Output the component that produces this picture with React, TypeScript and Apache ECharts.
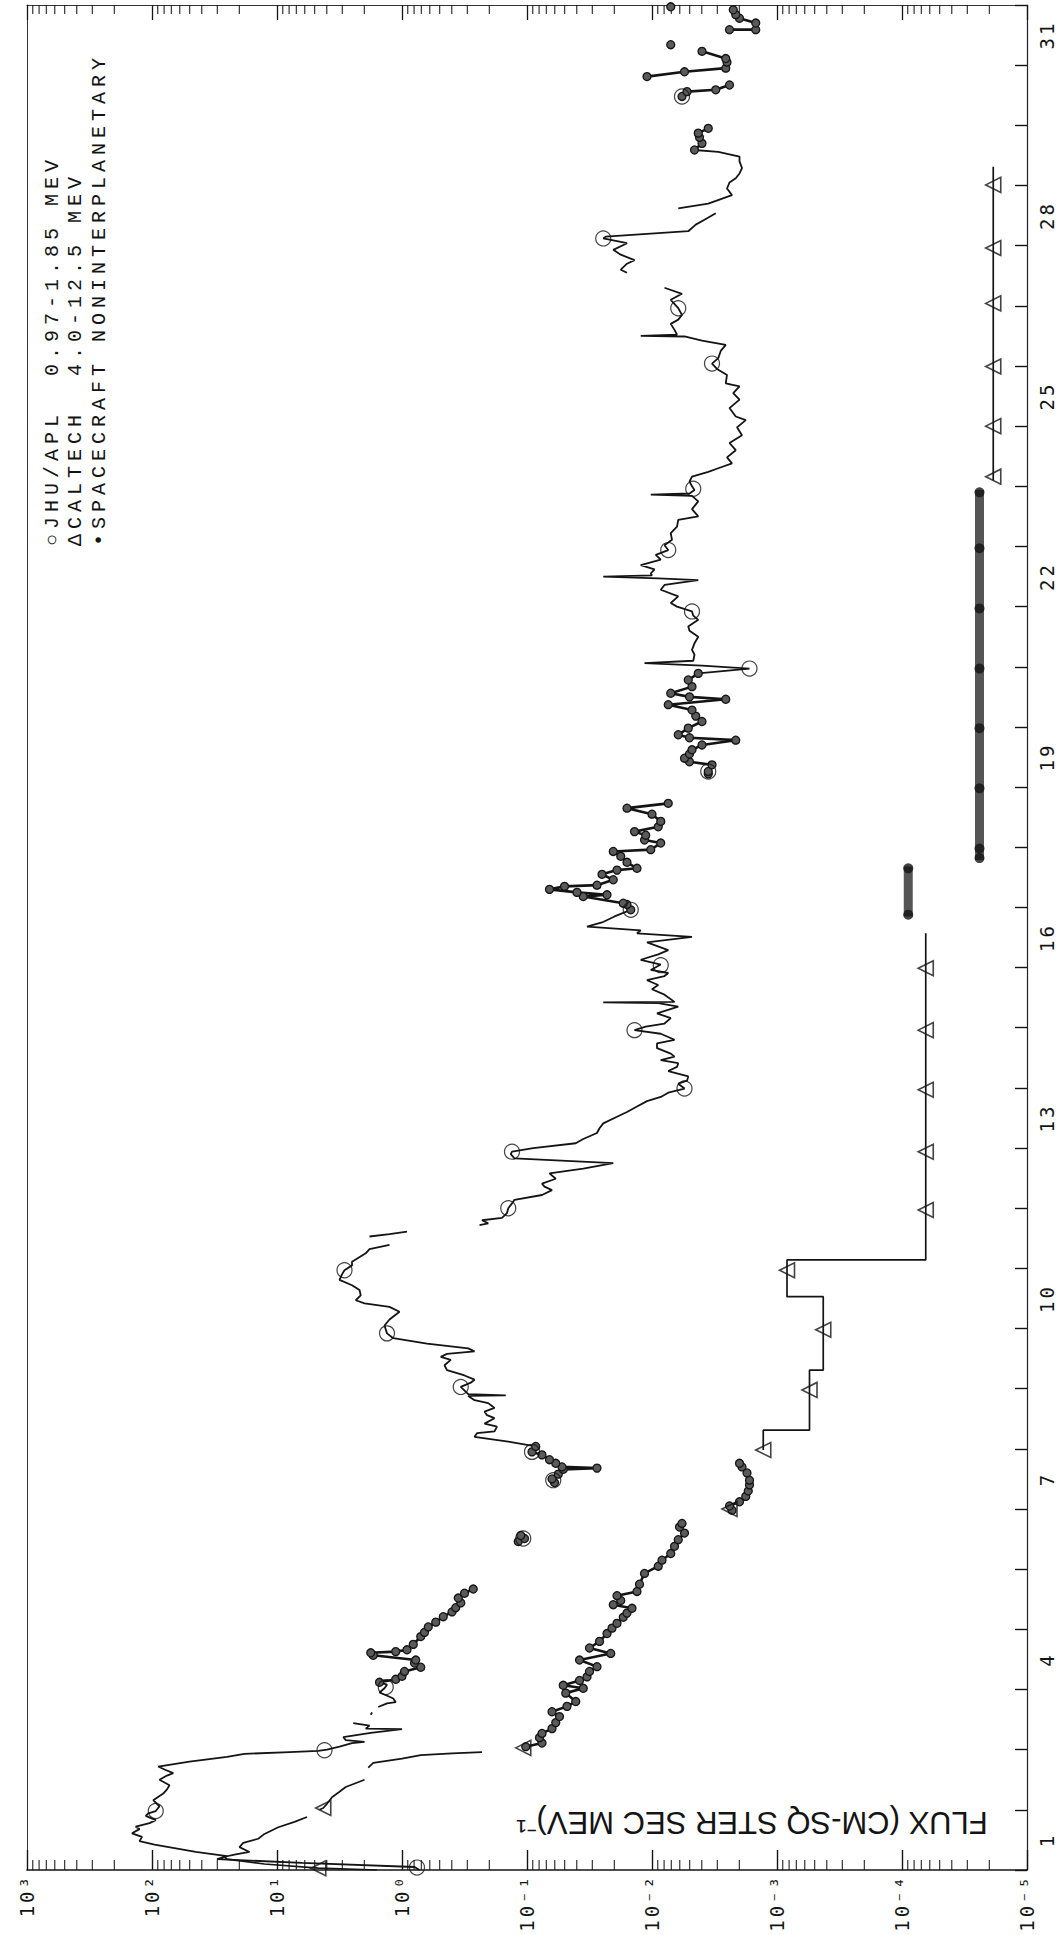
import React, { useEffect, useRef } from 'react';
import * as echarts from 'echarts';

// ---- axes ----
const fluxDecades = [-5, -4, -3, -2, -1, 0, 1, 2, 3];
const decadeLabels = ['10⁻⁵', '10⁻⁴', '10⁻³', '10⁻²', '10⁻¹', '10⁰', '10¹', '10²', '10³'];
const minorMultipliers = [2, 3, 4, 5, 6, 7, 8, 9];
const dayLabels = [1, 4, 7, 10, 13, 16, 19, 22, 25, 28, 31];

// ---- data: [day, log10 flux]; null = gap ----
const aplInterplanetary: ([number, number] | null)[] = [
  [1.00, -0.14], [1.05, -0.10], [1.12, 0.80], [1.18, 1.48], [1.23, 1.40], [1.30, 1.65], [1.42, 1.98],
  [1.48, 2.10], [1.55, 2.08], [1.61, 2.16], [1.68, 2.10], [1.72, 2.13], [1.78, 2.02], [1.83, 1.97],
  [1.90, 2.05], [1.94, 2.03], [1.98, 1.97], [2.06, 1.94], [2.16, 1.99], [2.27, 1.91], [2.34, 1.88],
  [2.41, 1.86], [2.50, 1.94], [2.57, 1.88], [2.61, 1.83], [2.67, 1.90], [2.72, 1.95], [2.80, 1.70],
  [2.88, 1.40], [2.93, 1.26], [2.96, 0.90], [2.98, 0.67], [3.00, 0.60], [3.05, 0.50], [3.11, 0.40],
  [3.13, 0.30], [3.16, 0.45], [3.21, 0.47], [3.28, 0.25], [3.34, 0.00], [3.35, 0.29], [3.40, 0.26],
  [3.44, 0.39], null,
  [3.58, 0.25], [3.62, 0.24], null,
  [3.71, 0.19], [3.77, 0.12], [3.79, 0.05], [3.85, 0.07], [3.88, 0.10], [3.95, 0.18], [4.02, 0.14],
  [4.08, 0.12], [4.12, 0.18], null,
  [8.04, -1.07], [8.12, -0.85], [8.20, -0.58], [8.26, -0.60], [8.29, -0.74], [8.37, -0.76], [8.42, -0.66],
  [8.51, -0.74], [8.56, -0.68], [8.62, -0.66], [8.68, -0.74], [8.76, -0.69], [8.81, -0.58], [8.88, -0.53],
  [8.89, -0.83], [8.91, -0.53], [9.03, -0.47], [9.10, -0.55], [9.15, -0.58], [9.22, -0.50], [9.31, -0.36],
  [9.39, -0.34], [9.48, -0.39], [9.53, -0.31], [9.58, -0.36], [9.62, -0.58], [9.67, -0.53], [9.75, -0.20],
  [9.84, 0.07], [9.92, 0.12], [10.05, 0.14], [10.15, 0.10], [10.28, 0.02], [10.36, 0.10], [10.42, 0.30],
  [10.47, 0.37], [10.55, 0.33], [10.64, 0.34], [10.72, 0.40], [10.81, 0.50], [10.90, 0.48], [10.97, 0.46],
  [11.05, 0.40], [11.11, 0.40], [11.25, 0.29], [11.32, 0.26], [11.39, 0.10], null,
  [11.53, 0.26], [11.57, 0.10], [11.61, -0.04], null,
  [11.72, -0.62], [11.75, -0.69], [11.80, -0.64], [11.84, -0.80], [11.92, -0.84], [12.00, -0.85],
  [12.08, -0.88], [12.14, -0.90], [12.22, -1.12], [12.30, -1.20], [12.36, -1.14], [12.41, -1.12],
  [12.49, -1.23], [12.58, -1.18], [12.66, -1.45], [12.75, -1.69], [12.83, -0.90], [12.90, -0.87],
  [12.94, -0.88], [13.00, -1.05], [13.08, -1.39], [13.15, -1.45], [13.25, -1.56], [13.33, -1.58],
  [13.41, -1.61], [13.52, -1.72], [13.60, -1.80], [13.69, -1.88], [13.78, -1.96], [13.85, -2.07],
  [13.92, -2.13], [13.99, -2.26], [14.07, -2.21], [14.12, -2.28], [14.19, -2.29], [14.28, -2.13],
  [14.35, -2.20], [14.41, -2.21], [14.46, -2.07], [14.52, -2.18], [14.57, -2.15], [14.66, -2.04],
  [14.74, -2.04], [14.80, -2.18], [14.90, -2.07], [14.96, -1.86], [15.02, -1.95], [15.07, -2.10],
  [15.16, -2.15], [15.24, -2.04], [15.35, -2.21], [15.41, -2.05], [15.42, -1.61], [15.43, -2.18],
  [15.55, -2.10], [15.64, -2.00], [15.71, -2.05], [15.79, -1.96], [15.86, -2.10], [15.91, -2.13],
  [15.96, -1.99], [16.05, -2.07], [16.13, -1.91], [16.22, -2.05], [16.29, -2.13], [16.42, -1.96],
  [16.51, -2.32], [16.57, -1.88], [16.62, -1.91], [16.68, -1.48], [16.75, -1.60], [16.85, -1.70],
  [16.96, -1.83], null,
  [20.89, -2.37], [20.97, -2.78], [21.02, -2.40], [21.06, -1.94], [21.10, -2.33], [21.20, -2.34],
  [21.28, -2.32], [21.39, -2.34], [21.50, -2.37], [21.60, -2.30], [21.67, -2.29], [21.78, -2.37],
  [21.85, -2.33], [21.92, -2.32], [22.00, -2.20], [22.06, -2.15], [22.17, -2.21], [22.28, -2.07],
  [22.36, -2.10], [22.44, -2.37], [22.47, -2.05], [22.50, -1.61], [22.52, -2.00], [22.55, -1.99],
  [22.62, -2.02], [22.69, -1.91], [22.78, -2.07], [22.86, -2.03], [22.94, -2.13], [23.02, -2.10],
  [23.11, -2.16], [23.22, -2.15], [23.33, -2.20], [23.44, -2.21], [23.50, -2.37], [23.62, -2.32],
  [23.75, -2.37], [23.84, -2.32], [23.86, -1.99], [23.88, -2.30], [23.94, -2.34], [24.00, -2.32],
  [24.08, -2.30], [24.16, -2.32], [24.24, -2.45], [24.30, -2.53], [24.38, -2.64], [24.48, -2.60],
  [24.60, -2.67], [24.72, -2.62], [24.85, -2.72], [24.98, -2.68], [25.10, -2.75], [25.16, -2.67],
  [25.30, -2.62], [25.44, -2.70], [25.55, -2.65], [25.66, -2.70], [25.71, -2.59], [25.85, -2.60],
  [25.95, -2.52], [26.04, -2.48], [26.13, -2.53], [26.25, -2.55], [26.35, -2.59], [26.42, -2.40],
  [26.49, -2.26], [26.50, -1.91], [26.52, -2.20], [26.60, -2.18], [26.70, -2.15], [26.77, -2.21],
  [26.85, -2.24], [26.96, -2.21], [27.10, -2.15], [27.20, -2.24], [27.30, -2.10], null,
  [27.55, -1.80], [27.60, -1.75], [27.70, -1.80], [27.76, -1.86], [27.85, -1.75], [27.93, -1.69],
  [28.04, -1.80], [28.12, -1.61], [28.15, -1.63], [28.24, -2.29], [28.35, -2.35], [28.43, -2.42],
  [28.54, -2.51], null,
  [28.62, -2.21], [28.70, -2.45], [28.84, -2.64], [28.95, -2.60], [29.05, -2.62], [29.12, -2.67],
  [29.20, -2.70], [29.29, -2.72], [29.40, -2.70], [29.48, -2.70], [29.56, -2.53], [29.59, -2.34],
];

const aplNoninterplanetary: ([number, number] | null)[] = [
  [4.12, 0.18], [4.17, 0.05], [4.22, 0.00], [4.30, -0.02], [4.37, -0.15], [4.44, -0.10], [4.49, -0.11],
  [4.57, 0.23], [4.61, 0.25], [4.63, 0.05], [4.66, -0.04], [4.75, -0.09], [4.88, -0.15], [4.95, -0.18],
  [5.04, -0.21], [5.12, -0.27], [5.21, -0.33], [5.29, -0.40], [5.36, -0.43], [5.44, -0.47], [5.52, -0.45],
  [5.60, -0.50], [5.67, -0.57], null,
  [6.46, -0.93], [6.51, -0.98], [6.56, -0.95], null,
  [7.44, -1.22], [7.50, -1.20], [7.58, -1.25], [7.66, -1.29], [7.68, -1.56], [7.70, -1.28], [7.76, -1.23],
  [7.82, -1.18], [7.90, -1.12], [7.95, -1.04], [8.04, -1.07], null,
  [16.96, -1.83], [17.05, -1.80], [17.07, -1.77], [17.18, -1.45], [17.21, -1.64], [17.25, -1.40],
  [17.30, -1.18], [17.35, -1.30], [17.37, -1.56], [17.46, -1.69], [17.55, -1.60], [17.62, -1.72],
  [17.65, -1.88], [17.75, -1.80], [17.85, -1.75], [17.93, -1.69], [17.96, -1.99], [18.07, -2.07],
  [18.12, -1.94], [18.20, -1.95], [18.26, -1.86], [18.34, -2.05], [18.43, -2.07], [18.55, -2.00],
  [18.65, -1.80], [18.73, -2.13], null,
  [19.22, -2.45], [19.26, -2.45], [19.37, -2.48], [19.42, -2.30], [19.48, -2.26], [19.55, -2.30],
  [19.62, -2.32], [19.70, -2.40], [19.78, -2.67], [19.82, -2.30], [19.87, -2.21], [19.98, -2.29],
  [20.09, -2.40], [20.18, -2.35], [20.28, -2.32], [20.37, -2.13], [20.46, -2.59], [20.50, -2.30],
  [20.56, -2.15], [20.67, -2.32], [20.78, -2.29], [20.89, -2.37], null,
  [29.59, -2.34], [29.70, -2.40], [29.80, -2.38], [29.87, -2.37], [29.95, -2.45], null,
  [30.48, -2.24], [30.56, -2.28], [30.59, -2.51], [30.67, -2.62], null,
  [30.81, -1.96], [30.89, -2.26], [30.95, -2.59], [31.05, -2.60], [31.11, -2.59], [31.23, -2.40], null,
  [31.34, -2.15], null,
  [31.59, -2.62], [31.59, -2.83], [31.70, -2.83], [31.78, -2.70], [31.84, -2.67], [31.92, -2.65], null,
  [31.97, -2.15],
];

const aplCircles: [number, number][] = [
  [1.04, -0.12], [1.98, 1.97], [2.99, 0.62], [4.04, 0.13], [6.51, -0.97], [7.48, -1.21], [7.95, -1.04],
  [9.03, -0.47], [9.92, 0.12], [10.97, 0.46], [12.00, -0.85], [12.94, -0.88], [13.99, -2.26],
  [14.96, -1.86], [16.04, -2.07], [16.96, -1.83], [19.26, -2.45], [20.97, -2.78], [21.92, -2.32],
  [22.94, -2.13], [23.96, -2.33], [26.04, -2.48], [26.96, -2.21], [28.12, -1.61], [30.48, -2.24],
];

const caltechInterplanetary: ([number, number] | null)[] = [
  [1.00, 0.20], [1.03, 0.67], [1.10, 1.10], [1.18, 1.40], [1.22, 1.42], [1.26, 1.33], [1.30, 1.22],
  [1.38, 1.30], [1.45, 1.27], [1.52, 1.15], [1.60, 1.10], [1.71, 0.99], [1.80, 0.86], [1.88, 0.76], null,
  [2.00, 0.66], [2.03, 0.63], [2.10, 0.60], [2.21, 0.56], [2.30, 0.50], [2.38, 0.45], [2.50, 0.30], null,
  [2.70, 0.27], [2.78, 0.23], [2.85, 0.00], [2.91, -0.15], [2.94, -0.40], [2.96, -0.64], null,
  [7.98, -2.89], [8.31, -2.89], [8.31, -3.26], [9.31, -3.26], [9.31, -3.37], [10.53, -3.37],
  [10.53, -3.08], [11.14, -3.08], [11.14, -4.19], [16.57, -4.19], null,
  [24.10, -4.73], [29.31, -4.73],
];

const caltechNoninterplanetary: ([number, number] | null)[] = [
  [3.05, -0.99], [3.11, -1.12], [3.20, -1.10], [3.27, -1.12], [3.35, -1.20], [3.45, -1.23], [3.55, -1.26],
  [3.63, -1.20], [3.72, -1.32], [3.80, -1.39], [3.94, -1.31], [4.02, -1.45], [4.07, -1.29], [4.15, -1.42],
  [4.21, -1.48], [4.30, -1.50], [4.38, -1.56], [4.49, -1.42], [4.60, -1.67], [4.69, -1.50], [4.80, -1.58],
  [4.93, -1.64], [5.02, -1.68], [5.10, -1.72], [5.20, -1.77], [5.27, -1.80], [5.35, -1.84], [5.41, -1.69],
  [5.48, -1.75], [5.56, -1.72], [5.63, -1.88], [5.75, -1.90], [5.93, -1.94], [6.05, -2.05], [6.15, -2.08],
  [6.26, -2.15], [6.38, -2.18], [6.49, -2.21], [6.60, -2.26], [6.70, -2.22], [6.76, -2.24], null,
  [6.98, -2.64], [7.05, -2.62], [7.12, -2.70], [7.21, -2.75], [7.30, -2.77], [7.40, -2.78], [7.48, -2.78],
  [7.60, -2.76], [7.70, -2.72], [7.76, -2.70],
];

const caltechTriangles: [number, number][] = [
  [1.03, 0.67], [2.03, 0.63], [3.03, -0.97], [7.00, -2.62], [7.98, -2.89], [8.98, -3.26], [9.98, -3.37],
  [10.97, -3.08], [11.97, -4.19], [12.94, -4.19], [13.97, -4.19], [14.96, -4.19], [15.99, -4.19],
  [24.16, -4.73], [25.00, -4.73], [25.99, -4.73], [27.04, -4.73], [27.96, -4.73], [29.01, -4.73],
];

const caltechBars: ([number, number] | null)[] = [
  [16.85, -4.05], [17.68, -4.05], null,
  [17.79, -4.62], [23.94, -4.62],
];

const caltechBarDots: [number, number][] = [
  [16.88, -4.05], [17.65, -4.05], [17.82, -4.62], [17.98, -4.62], [18.98, -4.62], [19.98, -4.62],
  [20.97, -4.62], [21.97, -4.62], [22.97, -4.62], [23.90, -4.62],
];

const legendLines = [
  '○JHU/APL  0.97-1.85 MEV',
  'ΔCALTECH  4.0-12.5 MEV',
  '•SPACECRAFT NONINTERPLANETARY',
];
const fluxTitle = 'FLUX (CM-SQ STER SEC MEV)⁻¹';

const toData = (pts: ([number, number] | null)[]) =>
  pts.map((p) => (p ? [p[1], p[0]] : ['-', '-']));

const INK = '#141414';

export default function App() {
  const ref = useRef<HTMLDivElement>(null);

  useEffect(() => {
    if (!ref.current) return;
    const chart = echarts.init(ref.current, undefined, { renderer: 'svg' });

    const minorBottom: number[][] = [];
    const minorTop: number[][] = [];
    for (let n = -5; n < 3; n++) {
      for (const k of minorMultipliers) {
        minorBottom.push([n + Math.log10(k), 1]);
        minorTop.push([n + Math.log10(k), 32]);
      }
    }

    const fluxAxisBase = {
      type: 'value',
      min: -5,
      max: 3,
      interval: 1,
      inverse: true,
      splitLine: { show: false },
    };

    const option: any = {
      animation: false,
      backgroundColor: '#ffffff',
      grid: { left: 27, right: 36, top: 5, bottom: 65, containLabel: false },
      xAxis: [
        {
          ...fluxAxisBase,
          position: 'bottom',
          axisLine: { show: true, onZero: false, lineStyle: { color: INK, width: 1.6 } },
          axisTick: { show: true, inside: true, length: 20, lineStyle: { color: INK, width: 1.4 } },
          axisLabel: {
            show: true,
            rotate: 90,
            margin: 4,
            color: INK,
            fontFamily: 'DejaVu Sans Mono',
            fontSize: 19,
            formatter: (v: number) => {
              const i = fluxDecades.indexOf(Math.round(v));
              return i >= 0 ? decadeLabels[i] : '';
            },
          },
        },
        {
          ...fluxAxisBase,
          position: 'top',
          axisLine: { show: true, onZero: false, lineStyle: { color: '#333', width: 1 } },
          axisTick: { show: true, inside: true, length: 15, lineStyle: { color: INK, width: 1.3 } },
          axisLabel: { show: false },
        },
      ],
      yAxis: [
        {
          type: 'value',
          min: 1,
          max: 32,
          interval: 1,
          position: 'right',
          splitLine: { show: false },
          axisLine: { show: true, onZero: false, lineStyle: { color: '#222', width: 1.2 } },
          axisTick: { show: true, inside: true, length: 12, lineStyle: { color: INK, width: 1.4 } },
          axisLabel: { show: false },
        },
        {
          type: 'value',
          min: 1,
          max: 32,
          interval: 0.5,
          position: 'right',
          splitLine: { show: false },
          axisLine: { show: false },
          axisTick: { show: false },
          axisLabel: {
            show: true,
            rotate: 90,
            margin: 10,
            color: INK,
            fontFamily: 'DejaVu Sans Mono',
            fontSize: 19,
            formatter: (v: number) => {
              const d = v - 0.5;
              return dayLabels.includes(d) ? String(d) : '';
            },
          },
        },
        {
          type: 'value',
          min: 1,
          max: 32,
          position: 'left',
          splitLine: { show: false },
          axisLine: { show: true, onZero: false, lineStyle: { color: '#333', width: 1 } },
          axisTick: { show: false },
          axisLabel: { show: false },
        },
      ],
      series: [
        {
          name: 'minor-bottom',
          type: 'scatter',
          silent: true,
          clip: false,
          symbol: 'rect',
          symbolSize: [1.3, 10],
          symbolOffset: [0, -5],
          itemStyle: { color: INK },
          data: minorBottom,
          z: 1,
        },
        {
          name: 'minor-top',
          type: 'scatter',
          silent: true,
          clip: false,
          symbol: 'rect',
          symbolSize: [1.3, 9],
          symbolOffset: [0, 4.5],
          itemStyle: { color: INK },
          data: minorTop,
          z: 1,
        },
        {
          name: 'JHU/APL 0.97-1.85 MEV',
          type: 'line',
          silent: true,
          symbol: 'none',
          showSymbol: false,
          connectNulls: false,
          lineStyle: { color: INK, width: 1.8 },
          data: toData(aplInterplanetary),
          z: 3,
        },
        {
          name: 'JHU/APL noninterplanetary',
          type: 'line',
          silent: true,
          symbol: 'circle',
          symbolSize: 8,
          showSymbol: true,
          connectNulls: false,
          lineStyle: { color: INK, width: 2.6 },
          itemStyle: { color: '#5a5a5a', borderColor: INK, borderWidth: 1.3 },
          data: toData(aplNoninterplanetary),
          z: 4,
        },
        {
          name: 'JHU/APL markers',
          type: 'scatter',
          silent: true,
          symbol: 'circle',
          symbolSize: 15,
          itemStyle: { color: 'rgba(255,255,255,0)', borderColor: INK, borderWidth: 1.2 },
          data: toData(aplCircles),
          z: 5,
        },
        {
          name: 'CALTECH 4.0-12.5 MEV',
          type: 'line',
          silent: true,
          symbol: 'none',
          showSymbol: false,
          connectNulls: false,
          lineStyle: { color: INK, width: 1.7 },
          data: toData(caltechInterplanetary),
          z: 3,
        },
        {
          name: 'CALTECH noninterplanetary',
          type: 'line',
          silent: true,
          symbol: 'circle',
          symbolSize: 8,
          showSymbol: true,
          connectNulls: false,
          lineStyle: { color: INK, width: 2.6 },
          itemStyle: { color: '#5a5a5a', borderColor: INK, borderWidth: 1.3 },
          data: toData(caltechNoninterplanetary),
          z: 4,
        },
        {
          name: 'CALTECH noninterplanetary bars',
          type: 'line',
          silent: true,
          symbol: 'none',
          showSymbol: false,
          connectNulls: false,
          lineStyle: { color: '#555555', width: 9 },
          data: toData(caltechBars),
          z: 3,
        },
        {
          name: 'CALTECH bar dots',
          type: 'scatter',
          silent: true,
          symbol: 'circle',
          symbolSize: 10,
          itemStyle: { color: INK },
          data: toData(caltechBarDots),
          z: 4,
        },
        {
          name: 'CALTECH markers',
          type: 'scatter',
          silent: true,
          symbol: 'triangle',
          symbolRotate: 90,
          symbolSize: 15,
          itemStyle: { color: 'rgba(255,255,255,0)', borderColor: INK, borderWidth: 1.6 },
          data: toData(caltechTriangles),
          z: 5,
        },
      ],
      graphic: [
        ...legendLines.map((t, i) => ({
          type: 'text',
          x: 52 + i * 23.5,
          y: 546,
          rotation: Math.PI / 2,
          silent: true,
          style: {
            text: t,
            font: "20px 'Liberation Mono'",
            fill: INK,
            textAlign: 'left',
            align: 'left',
            textVerticalAlign: 'middle',
            verticalAlign: 'middle',
          },
        })),
        {
          type: 'text',
          x: 752,
          y: 1822,
          rotation: Math.PI,
          silent: true,
          style: {
            text: fluxTitle,
            font: "31px 'Liberation Sans'",
            fill: INK,
            textAlign: 'center',
            align: 'center',
            textVerticalAlign: 'middle',
            verticalAlign: 'middle',
          },
        },
      ],
    };

    chart.setOption(option);
    return () => chart.dispose();
  }, []);

  return (
    <>
      <style>{`
        #flux-chart text[style*="Liberation Mono"] { letter-spacing: 5px; }
        #flux-chart text[style*="DejaVu Sans Mono"] { letter-spacing: 3px; }
      `}</style>
      <div
        id="flux-chart"
        ref={ref}
        style={{ position: 'absolute', left: 0, top: 0, width: 1063, height: 1935, background: '#fff' }}
      />
    </>
  );
}
